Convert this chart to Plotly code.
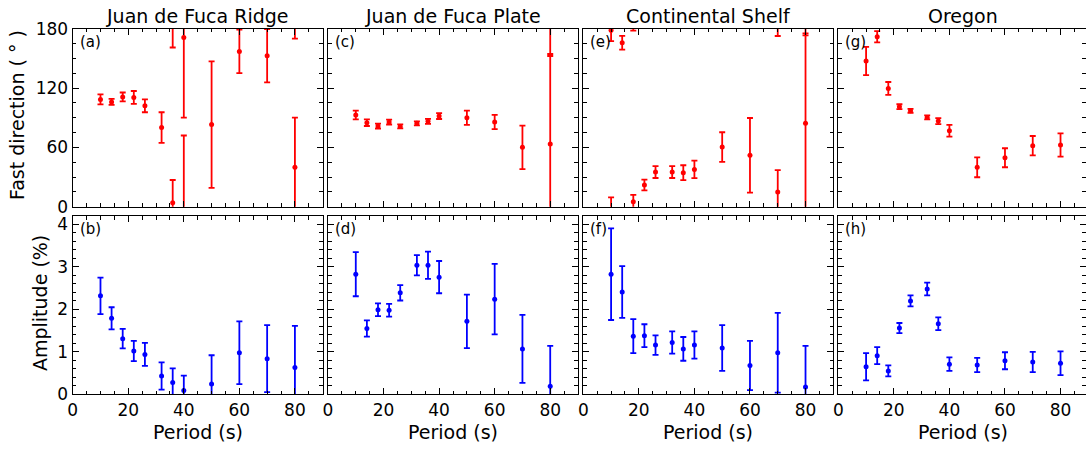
import plotly.graph_objects as go

# ---------------- data ----------------
period = [10, 14, 18, 22, 26, 32, 36, 40, 50, 60, 70, 80]

titles = ["Juan de Fuca Ridge", "Juan de Fuca Plate", "Continental Shelf", "Oregon"]
top_labels = ["(a)", "(c)", "(e)", "(g)"]
bot_labels = ["(b)", "(d)", "(f)", "(h)"]

# fast direction (deg) and its uncertainty
fd_ridge = [108.5, 106, 111, 110.5, 102, 80, 4, 171, 83, 157, 152.7, 40]
fd_ridge_err = [5, 3, 4.5, 6.5, 6.5, 15.5, 23, 81, 64, 22, 27, 50]
fd_plate = [92.7, 85, 81.6, 85.6, 81.2, 84.3, 86.3, 91.7, 90, 85.6, 60, 63.4]
fd_plate_err = [4.4, 3.4, 2.5, 2.5, 2, 2, 2.5, 3, 7.2, 7.2, 22, 91]
fd_shelf = [178.5, 165.8, 5, 21.9, 35, 35, 34.4, 37.7, 60.3, 52, 14.8, 84.3]
fd_shelf_err = [11, 7, 7, 5.4, 6, 6, 7.5, 8.8, 15, 37.7, 22.2, 91]
fd_oregon = [147.3, 171.9, 119.6, 101.1, 97, 90.3, 86.6, 76.8, 39.8, 49.5, 61.7, 62.4]
fd_oregon_err = [14.3, 5.7, 6.5, 2.5, 2, 2, 3, 6, 10, 9.6, 9.8, 11.8]

# amplitude (%) and its uncertainty
amp_ridge = [2.32, 1.79, 1.31, 1.02, 0.94, 0.43, 0.28, 0.09, 0.24, 0.98, 0.84, 0.63]
amp_ridge_err = [0.43, 0.26, 0.23, 0.24, 0.27, 0.32, 0.33, 0.35, 0.68, 0.74, 0.79, 0.98]
amp_plate = [2.83, 1.55, 1.99, 1.98, 2.39, 3.04, 3.04, 2.76, 1.72, 2.24, 1.07, 0.19]
amp_plate_err = [0.52, 0.19, 0.15, 0.15, 0.18, 0.24, 0.32, 0.38, 0.63, 0.83, 0.80, 0.95]
amp_shelf = [2.83, 2.41, 1.37, 1.38, 1.16, 1.22, 1.07, 1.16, 1.09, 0.68, 0.98, 0.17]
amp_shelf_err = [1.08, 0.61, 0.40, 0.27, 0.23, 0.26, 0.28, 0.32, 0.54, 0.58, 0.94, 0.97]
amp_oregon = [0.65, 0.91, 0.55, 1.56, 2.20, 2.48, 1.66, 0.71, 0.69, 0.79, 0.76, 0.73]
amp_oregon_err = [0.32, 0.20, 0.13, 0.12, 0.13, 0.15, 0.15, 0.16, 0.17, 0.20, 0.24, 0.28]

fd_all = [(fd_ridge, fd_ridge_err), (fd_plate, fd_plate_err),
          (fd_shelf, fd_shelf_err), (fd_oregon, fd_oregon_err)]
amp_all = [(amp_ridge, amp_ridge_err), (amp_plate, amp_plate_err),
           (amp_shelf, amp_shelf_err), (amp_oregon, amp_oregon_err)]

# ---------------- layout geometry (pixels) ----------------
W, H = 1086, 449
FONT = "DejaVu Sans"
panel_w = 250.0
col_left = [72.7, 328.0, 583.3, 838.3]
row_top = (28.7, 206.7)
row_bot = (216.0, 394.3)
XMAX = 90.0

def px(x):
    return x / W

def py(y):
    return 1 - y / H

RED = "#ff0000"
BLUE = "#0000ff"

fig = go.Figure()
layout = dict(
    template="none",
    width=W, height=H, autosize=False,
    margin=dict(l=0, r=0, t=0, b=0, pad=0),
    paper_bgcolor="white", plot_bgcolor="white",
    showlegend=False,
    font=dict(family=FONT, size=17, color="black"),
)
annotations = []

def axis_common():
    return dict(
        showline=True, linecolor="black", linewidth=1.3, mirror="allticks",
        ticks="inside", ticklen=6, tickwidth=1, tickcolor="black",
        showgrid=False, zeroline=False, automargin=False,
        tickfont=dict(family=FONT, size=17, color="black"),
    )

for c in range(4):
    left = col_left[c]
    right = min(left + panel_w, W)
    xmax = XMAX * (right - left) / panel_w
    for r in range(2):
        idx = c * 2 + r + 1
        xa = "xaxis" + ("" if idx == 1 else str(idx))
        ya = "yaxis" + ("" if idx == 1 else str(idx))
        xs = "x" + ("" if idx == 1 else str(idx))
        ys = "y" + ("" if idx == 1 else str(idx))
        top, bot = row_top if r == 0 else row_bot

        xax = axis_common()
        xax.update(domain=[px(left), px(right)], range=[0, xmax], anchor=ys,
                   tickvals=[0, 20, 40, 60, 80], showticklabels=(r == 1),
                   minor=dict(dtick=5, tick0=0, ticks="inside", ticklen=3.5,
                              tickwidth=1, tickcolor="black"))
        yax = axis_common()
        if r == 0:
            yax.update(range=[0, 180], tickvals=[0, 60, 120, 180],
                       minor=dict(dtick=15, tick0=0, ticks="inside", ticklen=3.5,
                                  tickwidth=1, tickcolor="black"))
        else:
            yax.update(range=[0, 4.2], tickvals=[0, 1, 2, 3, 4],
                       minor=dict(dtick=0.2, tick0=0, ticks="inside", ticklen=3.5,
                                  tickwidth=1, tickcolor="black"))
        yax.update(domain=[py(bot), py(top)], anchor=xs, showticklabels=(c == 0))
        layout[xa] = xax
        layout[ya] = yax

        if r == 0:
            vals, errs = fd_all[c]
            color = RED
            # main points
            fig.add_trace(go.Scatter(
                x=period, y=vals, mode="markers", xaxis=xs, yaxis=ys,
                marker=dict(color=color, size=5),
                error_y=dict(type="data", array=errs, visible=True,
                             color=color, thickness=1.8, width=3),
                cliponaxis=True))
            # wrapped portions of error bars (direction is periodic in 180 deg)
            wx, wy, we = [], [], []
            for p, v, e in zip(period, vals, errs):
                if v - e < 0:
                    wx.append(p); wy.append(v + 180); we.append(e)
                if v + e > 180:
                    wx.append(p); wy.append(v - 180); we.append(e)
            if wx:
                fig.add_trace(go.Scatter(
                    x=wx, y=wy, mode="markers", xaxis=xs, yaxis=ys,
                    marker=dict(color="rgba(0,0,0,0)", size=1),
                    error_y=dict(type="data", array=we, visible=True,
                                 color=color, thickness=1.8, width=3),
                    cliponaxis=True))
            lab = top_labels[c]
        else:
            vals, errs = amp_all[c]
            color = BLUE
            fig.add_trace(go.Scatter(
                x=period, y=vals, mode="markers", xaxis=xs, yaxis=ys,
                marker=dict(color=color, size=5),
                error_y=dict(type="data", array=errs, visible=True,
                             color=color, thickness=1.8, width=3),
                cliponaxis=True))
            lab = bot_labels[c]

        annotations.append(dict(
            text=lab, xref="paper", yref="paper",
            x=px(left + 5), y=py(top + 2), xanchor="left", yanchor="top",
            showarrow=False, font=dict(family=FONT, size=15, color="black")))

    # column title
    annotations.append(dict(
        text=titles[c], xref="paper", yref="paper",
        x=px(left + panel_w / 2), y=py(15.5), xanchor="center", yanchor="middle",
        showarrow=False, font=dict(family=FONT, size=19, color="black")))
    # x-axis title
    annotations.append(dict(
        text="Period (s)", xref="paper", yref="paper",
        x=px(left + panel_w / 2), y=py(432), xanchor="center", yanchor="middle",
        showarrow=False, font=dict(family=FONT, size=19, color="black")))

# y-axis titles
annotations.append(dict(
    text="Fast direction ( ° )", xref="paper", yref="paper",
    x=px(17), y=py(115), xanchor="center", yanchor="middle", textangle=-90,
    showarrow=False, font=dict(family=FONT, size=19, color="black")))
annotations.append(dict(
    text="Amplitude (%)", xref="paper", yref="paper",
    x=px(40), y=py(303), xanchor="center", yanchor="middle", textangle=-90,
    showarrow=False, font=dict(family=FONT, size=19, color="black")))

layout["annotations"] = annotations
fig.update_layout(**layout)
fig.write_html("out.html")
